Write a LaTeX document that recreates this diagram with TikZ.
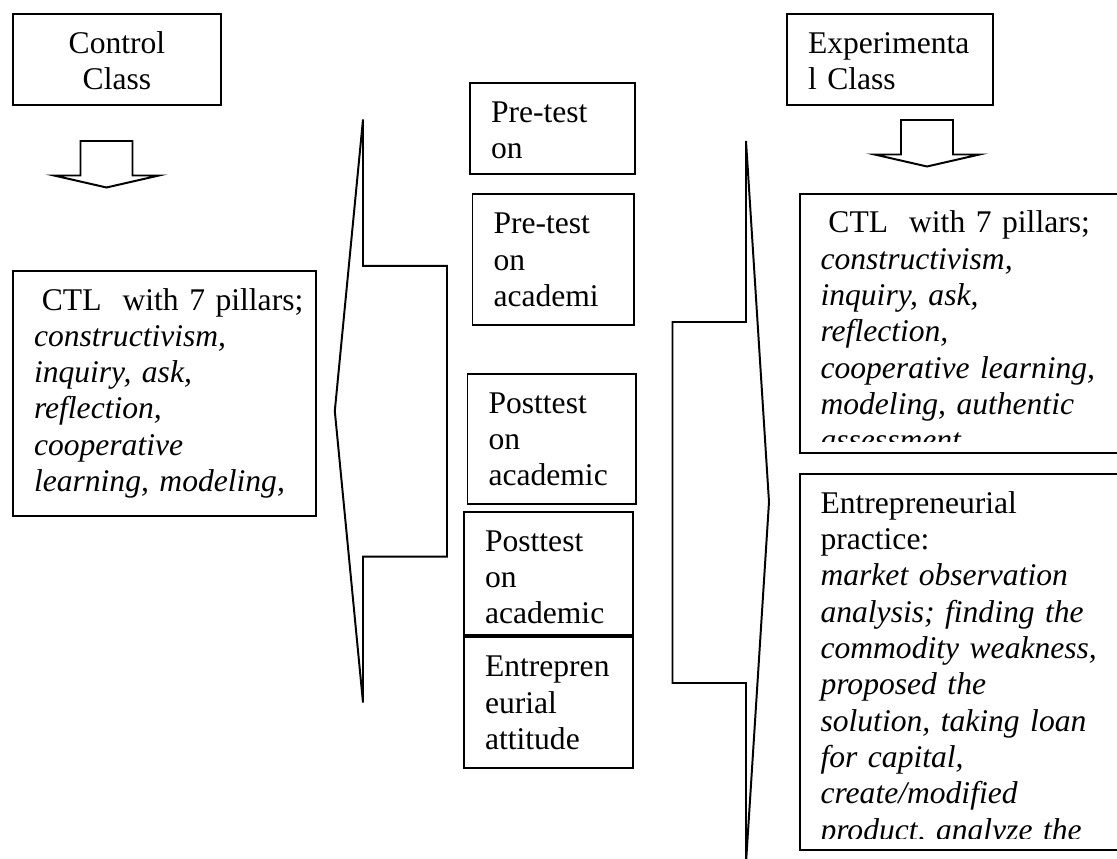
\documentclass[tikz,border=0pt]{standalone}
\usepackage{fontspec}
\setmainfont{Liberation Serif}
\usetikzlibrary{positioning}

\begin{document}
\begin{tikzpicture}[x=0.38pt, y=-0.38pt,
      shapeline/.style={draw, line width=0.75pt},
      txtbox/.style={anchor=north west, align=left, inner xsep=8pt, inner ysep=0pt,
                     text height=15pt, font=\fontsize{12}{13.8}\selectfont},
      card/.style={txtbox, draw, line width=0.75pt},
      boxframe/.style={draw, line width=0.75pt, anchor=north west, inner sep=0pt,
                       minimum width=140pt},
      dnarrow/.pic={\draw[shapeline] (-26,0) -- (-26,34.5) -- (-52.5,34.5) -- (0,46.5)
                      -- (52.5,34.5) -- (26,34.5) -- (26,0) -- cycle;}
    ]
    \useasboundingbox (0,0) rectangle (1117,859);
    \clip (0,0) rectangle (1117,859);
    \node[card, align=center, text width=63pt, text depth=19.7pt] (ctrl) at (12,12.6) {Control\\Class};
    \node[card, text width=62.1pt, text depth=19.7pt] (expt) at (786,12.6) {\mbox{Experimenta}\\l Class};
    \pic at (106.5,141) {dnarrow};
    \pic at (927,120) {dnarrow};
    \node[card, text width=99.3pt, text depth=78.2pt] (ctlL) at (12,269.6) {%
      \mbox{\hspace*{3pt}CTL\ \ with 7 pillars;}\\
      \textit{constructivism,}\\
      \textit{inquiry, ask,}\\
      \textit{reflection,}\\
      \textit{cooperative}\\
      \mbox{\textit{learning, modeling,}}};
    \draw[shapeline] (363,119.5) -- (363,265.8) -- (447,265.8) -- (447,556.7) -- (363,556.7)
      -- (363,702.5) -- (334.8,411) -- cycle;
    \node[card, text width=46.7pt, text depth=19.6pt] (pre1) at (469,82) {Pre-test\\on};
    \node[card, text width=45.2pt, text depth=34.8pt] (pre2) at (471.5,193.4) {Pre-test\\on\\academi};
    \node[card, text width=48pt, text depth=34.5pt] (post1) at (466.5,372.6) {Posttest\\on\\academic};
    \node[card, text width=48.4pt, text depth=32pt] (post2) at (463,510.7) {Posttest\\on\\academic};
    \node[card, text width=48.4pt, text depth=34.6pt] (attd) at (post2.south west) {Entrepren\\eurial\\attitude};
    \draw[shapeline] (746,141) -- (746,322) -- (672.5,322) -- (672.5,683) -- (746,683)
      -- (746,863) -- (769,502) -- cycle;
    \node[boxframe, minimum height=98.4pt] (ctlR) at (799,193) {};
    \begin{scope}
      \clip (ctlR.north west) rectangle ([yshift=4.9pt]ctlR.south east);
      \node[txtbox, text width=120pt] (ctlRtext) at (ctlR.north west) {%
        \mbox{\hspace*{3pt}CTL\ \ with 7 pillars;}\\
        \textit{constructivism,}\\
        \textit{inquiry, ask,}\\
        \textit{reflection,}\\
        \textit{cooperative learning,}\\
        \textit{modeling, authentic}\\
        \textit{assessment}};
    \end{scope}
    \node[boxframe, minimum height=142.8pt] (entP) at (799,473.3) {};
    \begin{scope}
      \clip (entP.north west) rectangle ([yshift=4.9pt]entP.south east);
      \node[txtbox, text width=120pt] (entPtext) at (entP.north west) {%
        Entrepreneurial\\
        practice:\\
        \textit{market observation}\\
        \textit{analysis; finding the}\\
        \textit{commodity weakness,}\\
        \textit{proposed the}\\
        \textit{solution, taking loan}\\
        \textit{for capital,}\\
        \textit{create/modified}\\
        \textit{product, analyze the}};
    \end{scope}
  \end{tikzpicture}
\end{document}
